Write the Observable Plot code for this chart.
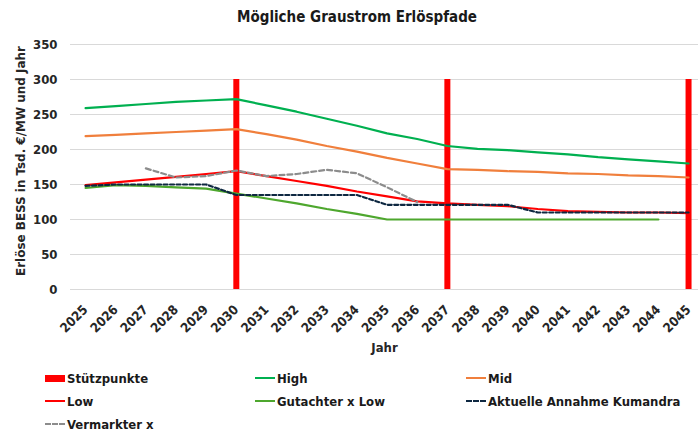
<!DOCTYPE html>
<html><head><meta charset="utf-8">
<script src="https://cdn.jsdelivr.net/npm/d3@7"></script>
<script src="https://cdn.jsdelivr.net/npm/@observablehq/plot@0.6"></script>
<style>
body{margin:0;background:#fff;}
#wrap{position:relative;width:698px;height:432px;overflow:hidden;font-family:"Liberation Sans Narrow","DejaVu Sans Condensed",sans-serif;color:#1a1a1a;}
#title{position:absolute;top:8px;left:0;width:714px;text-align:center;font-weight:bold;font-size:15px;}
#chart{position:absolute;top:0;left:0;}
.leg{position:absolute;font-weight:bold;font-size:13px;display:flex;align-items:center;height:16px;white-space:nowrap;}
.sw{display:inline-block;width:20px;margin-right:2px;}
</style></head><body>
<div id="wrap"><div id="chart"></div><div id="title">Mögliche Graustrom Erlöspfade</div><div id="legend"></div></div>
<script>
const jahre = [2025,2026,2027,2028,2029,2030,2031,2032,2033,2034,2035,2036,2037,2038,2039,2040,2041,2042,2043,2044,2045];
const high = [259,262,265,268,270,272,263,254,244,234,223,215,205,201,199,196,193,189,186,183,180];
const mid = [219,221,223,225,227,229,222,214,205,197,188,180,172,171,169,168,166,165,163,162,160];
const low = [149,153,157,161,165,169,162,155,148,140,133,126,123,121,119,115,112,111,110,110,109];
const gutachter = [145,149,148,146,144,137,130,123,115,108,100,100,100,100,100,100,100,100,100,100,null];
const kumandra = [148,150,150,150,150,135,135,135,135,135,121,121,121,121,121,110,110,110,110,110,110];
const vermarkter = [null,null,173,160,162,170,162,165,171,166,146,125,null,null,null,null,null,null,null,null,null];
const stuetzJahre = [2030,2037,2045];
const stuetzWert = 300;
const yTicks = [0,50,100,150,200,250,300,350];
const yLabel = "Erlöse BESS in Tsd. €/MW und Jahr";

const series = [
  {name:"High", values:high, color:"#00B050", dash:null},
  {name:"Mid", values:mid, color:"#F07F3C", dash:null},
  {name:"Low", values:low, color:"#FF0000", dash:null},
  {name:"Gutachter x Low", values:gutachter, color:"#4EA72E", dash:null},
  {name:"Aktuelle Annahme Kumandra", values:kumandra, color:"#0E2841", dash:"4,2.5"},
  {name:"Vermarkter x", values:vermarkter, color:"#8C8C8C", dash:"5,3"}
];
const stuetz = stuetzJahre.map(j => ({jahr:j, wert:stuetzWert}));
const font = '"Liberation Sans Narrow","DejaVu Sans Condensed",sans-serif';

const lineMarks = series.map(s => Plot.line(
  jahre.map((j,i) => ({jahr:j, wert:s.values[i]})),
  {x:"jahr", y:"wert", stroke:s.color, strokeWidth:2.2, strokeDasharray:s.dash, curve:"linear"}
));

const chart = Plot.plot({
  width:698, height:360,
  marginTop:44, marginBottom:71, marginLeft:70, marginRight:0,
  style:{fontFamily:font, fontSize:"13px", fontWeight:"bold", color:"#262626", background:"transparent", overflow:"visible"},
  x:{domain:[2024.5, 2045.33], axis:null},
  y:{domain:[0,350], axis:null},
  marks:[
    Plot.ruleY(yTicks, {stroke:"#D9D9D9", strokeWidth:1.2, strokeOpacity:1}),
    Plot.axisY({ticks:yTicks, tickSize:0, tickPadding:13, label:null, fontSize:13, fontWeight:"bold"}),
    Plot.axisX({ticks:jahre, tickSize:0, tickPadding:6, dy:12, tickRotate:-45, tickFormat:d => String(d), label:null, fontSize:13, fontWeight:"bold"}),
    Plot.ruleX(stuetz, {x:"jahr", y1:0, y2:"wert", stroke:"#FF0000", strokeWidth:6, strokeOpacity:1}),
    ...lineMarks,
    Plot.text([yLabel], {frameAnchor:"left", textAnchor:"middle", dx:-50, dy:-6, rotate:-90, fontSize:12.5, fontWeight:"bold", fill:"#262626"}),
    Plot.text(["Jahr"], {frameAnchor:"bottom", dy:62, fontSize:13, fontWeight:"bold", fill:"#262626"})
  ]
});
document.getElementById("chart").appendChild(chart);
d3.select(chart).selectAll("text").filter(function(){ return this.textContent === yLabel; })
  .attr("textLength", 230).attr("lengthAdjust", "spacingAndGlyphs");

// legend
const legendItems = [
  {name:"Stützpunkte", type:"bar", color:"#FF0000", x:45, y:378},
  {name:"High", type:"line", color:"#00B050", x:255, y:378},
  {name:"Mid", type:"line", color:"#F07F3C", x:466, y:378},
  {name:"Low", type:"line", color:"#FF0000", x:45, y:401},
  {name:"Gutachter x Low", type:"line", color:"#4EA72E", x:255, y:401},
  {name:"Aktuelle Annahme Kumandra", type:"dash", color:"#0E2841", x:466, y:401},
  {name:"Vermarkter x", type:"dash", color:"#8C8C8C", x:45, y:424}
];
const leg = document.getElementById("legend");
for (const it of legendItems) {
  const d = document.createElement("div");
  d.className = "leg";
  d.style.left = it.x + "px";
  d.style.top = (it.y - 8) + "px";
  const sw = document.createElement("span");
  sw.className = "sw";
  if (it.type === "bar") { sw.style.height = "7px"; sw.style.background = it.color; }
  else if (it.type === "line") { sw.style.height = "0"; sw.style.borderTop = "2px solid " + it.color; }
  else { sw.style.height = "0"; sw.style.borderTop = "2px dashed " + it.color; }
  d.appendChild(sw);
  d.appendChild(document.createTextNode(it.name));
  leg.appendChild(d);
}
</script>
</body></html>
